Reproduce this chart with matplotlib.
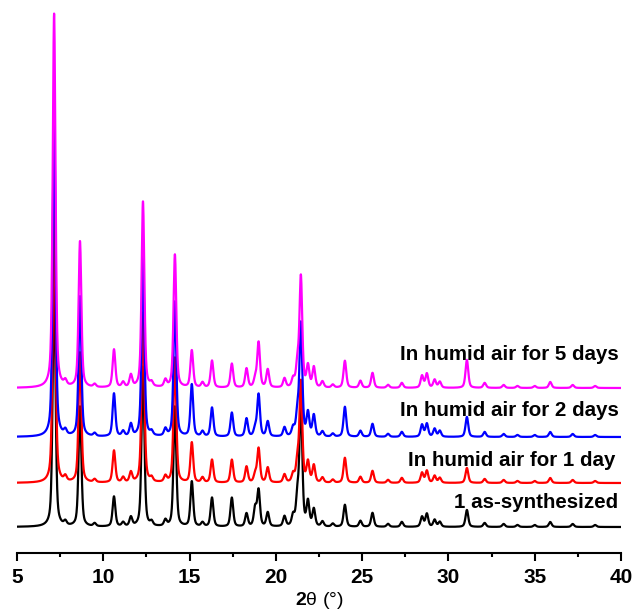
import numpy as np
import matplotlib
matplotlib.use("Agg")
import matplotlib.pyplot as plt

plt.rcParams["font.family"] = ["Liberation Sans", "DejaVu Sans"]
plt.rcParams["mathtext.fontset"] = "custom"
plt.rcParams["mathtext.rm"] = "Liberation Sans"
plt.rcParams["mathtext.bf"] = "Liberation Sans:bold"

# peak positions (2theta, deg)
peak_pos = [7.15, 7.8, 8.65, 9.5, 10.62, 11.15, 11.6, 12.3, 12.8, 13.6, 14.15,
            15.13, 15.75, 16.3, 17.45, 18.3, 18.8, 19.0, 19.53, 20.5, 21.0, 21.25,
            21.45, 21.86, 22.2, 22.7, 23.3, 24.0, 24.9, 25.6, 26.5, 27.3, 28.47,
            28.75, 29.2, 29.5, 31.07, 32.1, 33.2, 34.0, 35.0, 35.9, 37.2, 38.5]

# peak intensities (a.u.) for each sample, same order as peak_pos
h_synth = [250, 4, 120, 3, 30, 4, 9, 160, 4, 6, 120,
           45, 4, 29, 29, 13, 18, 36, 14, 10, 10, 28, 125,
           24, 17, 5, 3, 22, 6, 14, 3, 5, 10, 13,
           7, 5, 17, 4, 3, 2, 2, 5, 3, 2]
h_1day = [280, 5, 130, 3, 32, 5, 10, 170, 4, 6, 125,
          40, 5, 23, 23, 16, 8, 34, 15, 8, 8, 20, 100,
          20, 17, 5, 3, 25, 6, 12, 3, 5, 10, 12,
          7, 5, 15, 4, 3, 2, 2, 5, 3, 2]
h_2day = [330, 5, 140, 3, 43, 5, 12, 180, 4, 7, 135,
          52, 5, 29, 24, 18, 8, 42, 15, 9, 8, 22, 112,
          23, 21, 5, 3, 30, 6, 13, 3, 5, 12, 13,
          8, 6, 20, 5, 3, 2, 2, 5, 3, 2]
h_5day = [374, 5, 146, 3, 38, 5, 12, 186, 4, 7, 133,
          37, 5, 27, 24, 19, 8, 45, 18, 9, 8, 22, 110,
          21, 20, 6, 3, 27, 7, 15, 3, 5, 12, 14,
          8, 6, 28, 5, 3, 2, 2, 6, 3, 2]

series = [h_synth, h_1day, h_2day, h_5day]
offsets = [26, 70, 116, 165]
colors = ["black", "#ff0000", "#0000ff", "#ff00ff"]
labels = ["1 as-synthesized", "In humid air for 1 day",
          "In humid air for 2 days", "In humid air for 5 days"]
label_y = [51, 93, 143, 199]
label_x = [39.85, 39.7, 39.85, 39.85]


def pattern(x, heights, fwhm=0.19, eta=0.5):
    y = np.zeros_like(x)
    g = fwhm / 2.0
    sig = fwhm / 2.3548
    for p, h in zip(peak_pos, heights):
        lor = g ** 2 / ((x - p) ** 2 + g ** 2)
        gau = np.exp(-0.5 * ((x - p) / sig) ** 2)
        y += h * (eta * lor + (1 - eta) * gau)
    return y


x = np.arange(5.0, 40.0, 0.01)

fig = plt.figure(figsize=(6.36, 6.16), dpi=100)
ax = fig.add_axes([17 / 636, 63 / 616, 604 / 636, 553 / 616])

for h, off, c in zip(series, offsets, colors):
    ax.plot(x, pattern(x, h) + off, color=c, lw=1.6)

for lab, lx, ly in zip(labels, label_x, label_y):
    ax.text(lx, ly, lab, ha="right", va="center", fontsize=14.8,
            fontweight="bold")

ax.set_xlim(5, 40)
ax.set_ylim(0, 553)
ax.set_xticks(np.arange(5, 41, 5))
ax.set_xticks(np.arange(5, 40.1, 2.5), minor=True)
ax.tick_params(axis="x", which="major", length=6, width=1.5, labelsize=15, pad=5)
ax.tick_params(axis="x", which="minor", length=3, width=1.5)
for t in ax.get_xticklabels():
    t.set_fontweight("bold")
ax.set_yticks([])
for s in ["left", "right", "top"]:
    ax.spines[s].set_visible(False)
ax.spines["bottom"].set_linewidth(1.5)
ax.set_xlabel(r"$\mathbf{2}$θ (°)", fontsize=14, labelpad=2)

fig.savefig("out.png", dpi=100)
